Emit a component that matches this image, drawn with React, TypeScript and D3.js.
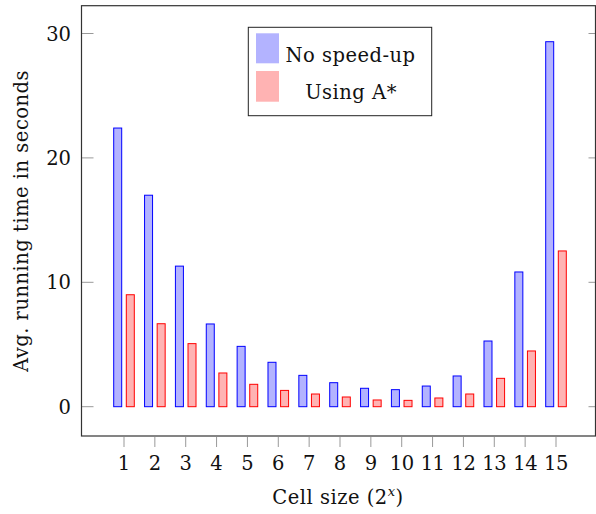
import React from "react";
import * as d3 from "d3";

const categories = [1, 2, 3, 4, 5, 6, 7, 8, 9, 10, 11, 12, 13, 14, 15];
const noSpeedUp = [22.4, 17.0, 11.3, 6.65, 4.85, 3.57, 2.52, 1.93, 1.48, 1.37, 1.66, 2.47, 5.28, 10.83, 29.34];
const usingAStar = [9.0, 6.67, 5.07, 2.71, 1.8, 1.31, 1.02, 0.78, 0.54, 0.51, 0.7, 1.02, 2.28, 4.48, 12.52];
const yTicks = [0, 10, 20, 30];
const seriesNames = ["No speed-up", "Using A*"];

const W = 596;
const H = 514;
const frame = { left: 81.5, right: 595.5, top: 5.7, bottom: 436 };
const FONT = "DejaVu Serif";
const FS = 19.5;
const LS = 0.5;

export default function App() {
  const x = d3.scaleLinear().domain([1, 15]).range([124, 556]);
  const y = d3.scaleLinear().domain([0, 30]).range([406.7, 33.5]);
  const barW = 8;
  const off = 6.3;
  const series = [
    { name: seriesNames[0], values: noSpeedUp, fill: "#b3b3ff", stroke: "#0000ff", dx: -off },
    { name: seriesNames[1], values: usingAStar, fill: "#ffb3b3", stroke: "#ff0000", dx: off },
  ];
  return (
    <svg width={W} height={H} style={{ position: "absolute", left: 0, top: 0, fontFamily: FONT }}>
      <rect x={0} y={0} width={W} height={H} fill="white" />
      {yTicks.map((t) => (
        <g key={t}>
          <line x1={frame.left} x2={frame.left + 12} y1={y(t)} y2={y(t)} stroke="#999" strokeWidth={1} />
          <line x1={frame.right - 7} x2={frame.right} y1={y(t)} y2={y(t)} stroke="#999" strokeWidth={1} />
          <text x={71} y={y(t)} dy="0.36em" textAnchor="end" fontSize={FS} fill="#111">{t}</text>
        </g>
      ))}
      {categories.map((c) => (
        <g key={c}>
          <line x1={x(c)} x2={x(c)} y1={frame.bottom + 1} y2={frame.bottom + 11} stroke="#999" strokeWidth={1} />
          <text x={x(c)} y={470} textAnchor="middle" fontSize={FS} letterSpacing={c >= 10 ? -0.5 : 0} fill="#111">{c}</text>
        </g>
      ))}
      {series.map((s) =>
        s.values.map((v, i) => (
          <rect
            key={s.name + i}
            x={x(categories[i]) + s.dx - barW / 2}
            y={y(v)}
            width={barW}
            height={y(0) - y(v)}
            fill={s.fill}
            stroke={s.stroke}
            strokeWidth={1}
          />
        ))
      )}
      <rect
        x={frame.left}
        y={frame.top}
        width={frame.right - frame.left}
        height={frame.bottom - frame.top}
        fill="none"
        stroke="#333"
        strokeWidth={1.2}
      />
      <g>
        <rect x={248.3} y={27.3} width={183.4} height={88.4} fill="white" stroke="#222" strokeWidth={1} />
        <rect x={256} y={33.3} width={23} height={30} fill={series[0].fill} />
        <rect x={256} y={71} width={23} height={30.7} fill={series[1].fill} />
        <text x={350.5} y={62} textAnchor="middle" fontSize={FS} letterSpacing={LS} fill="#111">{seriesNames[0]}</text>
        <text x={351} y={99} textAnchor="middle" fontSize={FS} letterSpacing={LS} fill="#111">{seriesNames[1]}</text>
      </g>
      <text x={338} y={504} textAnchor="middle" fontSize={FS} letterSpacing={LS} fill="#111">
        Cell size (2<tspan dy={-8} fontSize={13} fontStyle="italic">x</tspan><tspan dy={8}>)</tspan>
      </text>
      <text transform={`translate(28, 221) rotate(-90)`} textAnchor="middle" fontSize={FS} letterSpacing={LS} fill="#111">
        Avg. running time in seconds
      </text>
    </svg>
  );
}
